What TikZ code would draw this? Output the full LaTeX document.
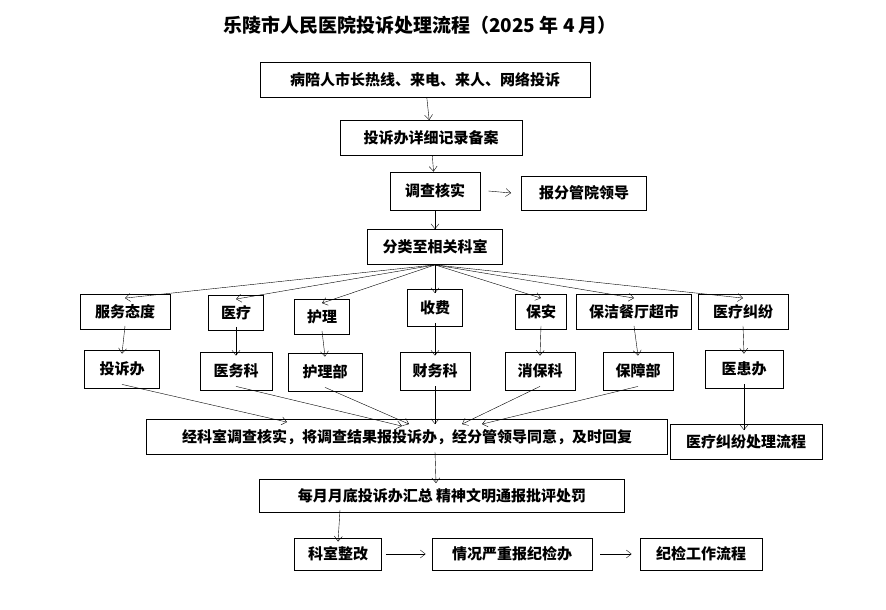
\documentclass[tikz,border=0pt]{standalone}
\usepackage{fontspec}
\setmainfont{Noto Sans CJK SC}
\usetikzlibrary{arrows.meta}
\tikzset{
  box/.style={draw,thick,inner sep=0pt,font=\fontsize{15}{18}\selectfont\bfseries},
  arr/.style={-{Straight Barb[length=5pt,width=8pt]},thin}
}
\newcommand{\bx}[6]{\node[box,minimum width=#4pt,minimum height=#5pt] (#1) at (#2,#3) {#6};}
\begin{document}
\begin{tikzpicture}[x=1pt,y=-1pt]
\useasboundingbox (0,0) rectangle (886,610);
% title
\node[font=\fontsize{19}{22}\selectfont\bfseries] (title) at (420,25) {乐陵市人民医院投诉处理流程（2025 年 4 月）};
% main column
\bx{src}{425}{80}{330}{35}{病陪人市长热线、来电、来人、网络投诉}
\bx{rec}{431}{138}{182}{35}{投诉办详细记录备案}
\bx{chk}{435}{191}{90}{38}{调查核实}
\bx{lead}{584}{193}{125}{34}{报分管院领导}
\bx{cls}{435}{247}{135}{35}{分类至相关科室}
% categories
\bx{c1}{125}{312}{90}{35}{服务态度}
\bx{c2}{236}{313}{55}{35}{医疗}
\bx{c3}{322}{317}{55}{35}{护理}
\bx{c4}{435}{308}{55}{37}{收费}
\bx{c5}{541}{312}{51}{35}{保安}
\bx{c6}{634}{312}{115}{35}{保洁餐厅超市}
\bx{c7}{743}{312}{90}{35}{医疗纠纷}
% departments
\bx{d1}{122}{369}{75}{38}{投诉办}
\bx{d2}{236}{371}{72}{38}{医务科}
\bx{d3}{325}{372}{74}{38}{护理部}
\bx{d4}{435}{371}{70}{38}{财务科}
\bx{d5}{540}{371}{70}{38}{消保科}
\bx{d6}{638}{371}{70}{38}{保障部}
\bx{d7}{744}{369}{78}{38}{医患办}
% result
\bx{res}{407}{437}{521}{35}{经科室调查核实，将调查结果报投诉办，经分管领导同意，及时回复}
\bx{med}{746}{442}{152}{35}{医疗纠纷处理流程}
\bx{mon}{442}{496}{365}{33}{每月月底投诉办汇总 精神文明通报批评处罚}
\bx{fix}{338}{554}{87}{32}{科室整改}
\bx{sev}{512}{554}{160}{32}{情况严重报纪检办}
\bx{jj}{701}{554}{122}{32}{纪检工作流程}
% connectors
\draw[arr] (src) -- (rec);
\draw[arr] (rec) -- (chk);
\draw[arr] ([xshift=8]chk.east) -- ([xshift=-10]lead.west);
\draw[arr] (chk) -- (cls);
\foreach \c in {c1,c2,c3,c4,c5,c6,c7}
  \draw[arr] (cls.south) -- ([yshift=-4]\c.north);
\foreach \i in {1,...,7}
  \draw[arr] ([yshift=4]c\i.south) -- ([yshift=-4]d\i.north);
\draw[arr] ([yshift=4]d1.south) -- ([xshift=-120,yshift=-3]res.north);
\draw[arr] ([yshift=4]d2.south) -- ([xshift=-5,yshift=-7]res.north);
\draw[arr] ([yshift=4]d3.south) -- ([xshift=2,yshift=-5]res.north);
\draw[arr] ([yshift=4]d4.south) -- ([xshift=28,yshift=-5]res.north);
\draw[arr] ([yshift=4]d5.south) -- ([xshift=55,yshift=-5]res.north);
\draw[arr] ([yshift=4]d6.south) -- ([xshift=75,yshift=-5]res.north);
\draw[arr] ([yshift=4]d7.south) -- ([yshift=-6]med.north-|d7.south);
\draw[arr] ([xshift=28,yshift=3]res.south) -- ([xshift=-6,yshift=-4]mon.north);
\draw[arr] ([xshift=-102,yshift=3]mon.south) -- ([yshift=-4]fix.north);
\draw[arr] ([xshift=4]fix.east) -- ([xshift=-6]sev.west);
\draw[arr] ([xshift=8]sev.east) -- ([xshift=-8]jj.west);
\end{tikzpicture}
\end{document}
